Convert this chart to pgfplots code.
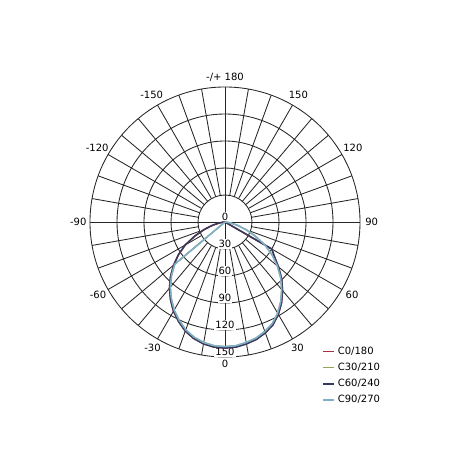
\documentclass[border=0pt]{standalone}
\usepackage{pgfplots}
\pgfplotsset{compat=1.18}
\usepgfplotslibrary{polar}
\usepackage{fontspec}
\setmainfont{DejaVu Sans}

\definecolor{gridc}{HTML}{262626}
\definecolor{czero}{HTML}{A3303C}
\definecolor{cthirty}{HTML}{8FA65A}
\definecolor{csixty}{HTML}{34395E}
\definecolor{cninety}{HTML}{7FAFCB}

\pgfplotsset{
    shortline/.style={legend image code/.code={
        \draw[##1, line width=1.6bp] (0bp,0bp) -- (11bp,0bp);
        \path (13.5bp,0bp);}},
}

\begin{document}
\begin{tikzpicture}[font=\fontsize{10bp}{12bp}\selectfont]
\path[use as bounding box] (0,0) rectangle (460bp,460bp);
\begin{polaraxis}[
    at={(225bp,238bp)}, anchor=center,
    scale only axis, width=270bp, height=270bp,
    xmin=0, xmax=360, ymin=0, ymax=150,
    xtick=\empty,
    ytick={30,60,90,120}, yticklabels={},
    ymajorgrids,
    major grid style={gridc, line width=0.85bp},
    axis line style={gridc, line width=0.85bp},
    major tick length=0pt,
    clip=false,
    legend cell align=left,
    shortline,
    legend style={at={(axis description cs:0.8475,0.048)}, anchor=north west,
        draw=none, fill=none, row sep=5.5bp,
        nodes={inner sep=0.8bp, text height=7.5bp, text depth=1.5bp,
               font=\fontsize{10bp}{12bp}\selectfont}},
]
% spokes every 10 degrees, from the first ring outwards
\pgfplotsinvokeforeach{0,10,...,350}{
    \draw[gridc, line width=0.85bp] (axis cs:#1,30) -- (axis cs:#1,150);
}
\draw[gridc, line width=0.85bp] (axis cs:0,150) -- (axis cs:180,150);
\draw[gridc, line width=0.85bp] (axis cs:90,150) -- (axis cs:270,150);

% ring labels
\node[anchor=south, fill=white, inner sep=1bp] at (axis cs:90,0) {0};
\pgfplotsinvokeforeach{30,60,90,120,150}{
    \node[anchor=south, fill=white, inner sep=1bp] at (axis cs:270,#1) {#1};
}

% angle labels
\node at (axis cs:90,161) {-/+ 180};
\node at (axis cs:60,163) {150};
\node at (axis cs:30,164) {120};
\node at (axis cs:0,163) {90};
\node at (axis cs:330,163) {60};
\node at (axis cs:300,161) {30};
\node at (axis cs:270,158) {0};
\node at (axis cs:240,161) {-30};
\node at (axis cs:210,163) {-60};
\node at (axis cs:180,163) {-90};
\node at (axis cs:150,164) {-120};
\node at (axis cs:120,163) {-150};

\addplot[color=czero, line width=1.5bp] coordinates {
    (180,0) (185,2) (190,7) (195,15) (200,25) (205,37) (210,51) (215,63)
    (220,74.5) (225,85.5) (230,96) (235,105.5) (240,114.5) (245,122)
    (250,129) (255,134) (260,137.5) (265,139.5) (270,140) (275,139.5)
    (280,137.5) (285,135) (290,131) (295,126) (300,118.5) (305,109.5)
    (310,99.5) (315,89) (320,77.5) (325,67) (330,60) (335,0)};
\addlegendentry{C0/180}
\addplot[color=cthirty, line width=1.5bp] coordinates {
    (215,0) (220,73) (225,84) (230,94.5) (235,104) (240,113) (245,120.5)
    (250,127.5) (255,132.5) (260,136) (265,138) (270,138.5) (275,138)
    (280,136) (285,133.5) (290,129.5) (295,124.5) (300,117) (305,108)
    (310,98) (315,87.5) (320,76) (325,64) (330,51.5) (335,37) (340,25)
    (345,14.5) (350,7) (355,2) (360,0)};
\addlegendentry{C30/210}
\addplot[color=csixty, line width=1.5bp] coordinates {
    (180,0) (185,2) (190,7) (195,15) (200,25) (205,37) (210,51) (215,63)
    (220,74.5) (225,85.5) (230,96) (235,105.5) (240,114.5) (245,122)
    (250,129) (255,134) (260,137.5) (265,139.5) (270,140) (275,139.5)
    (280,137.5) (285,135) (290,131) (295,126) (300,118.5) (305,109.5)
    (310,99.5) (315,89) (320,77.5) (325,67) (330,60) (335,0)};
\addlegendentry{C60/240}
\addplot[color=cninety, line width=1.5bp] coordinates {
    (215,0) (220,73) (225,84) (230,94.5) (235,104) (240,113) (245,120.5)
    (250,127.5) (255,132.5) (260,136) (265,138) (270,138.5) (275,138)
    (280,136) (285,133.5) (290,129.5) (295,124.5) (300,117) (305,108)
    (310,98) (315,87.5) (320,76) (325,64) (330,51.5) (335,37) (340,25)
    (345,14.5) (350,7) (355,2) (360,0)};
\addlegendentry{C90/270}
\end{polaraxis}
\end{tikzpicture}
\end{document}
